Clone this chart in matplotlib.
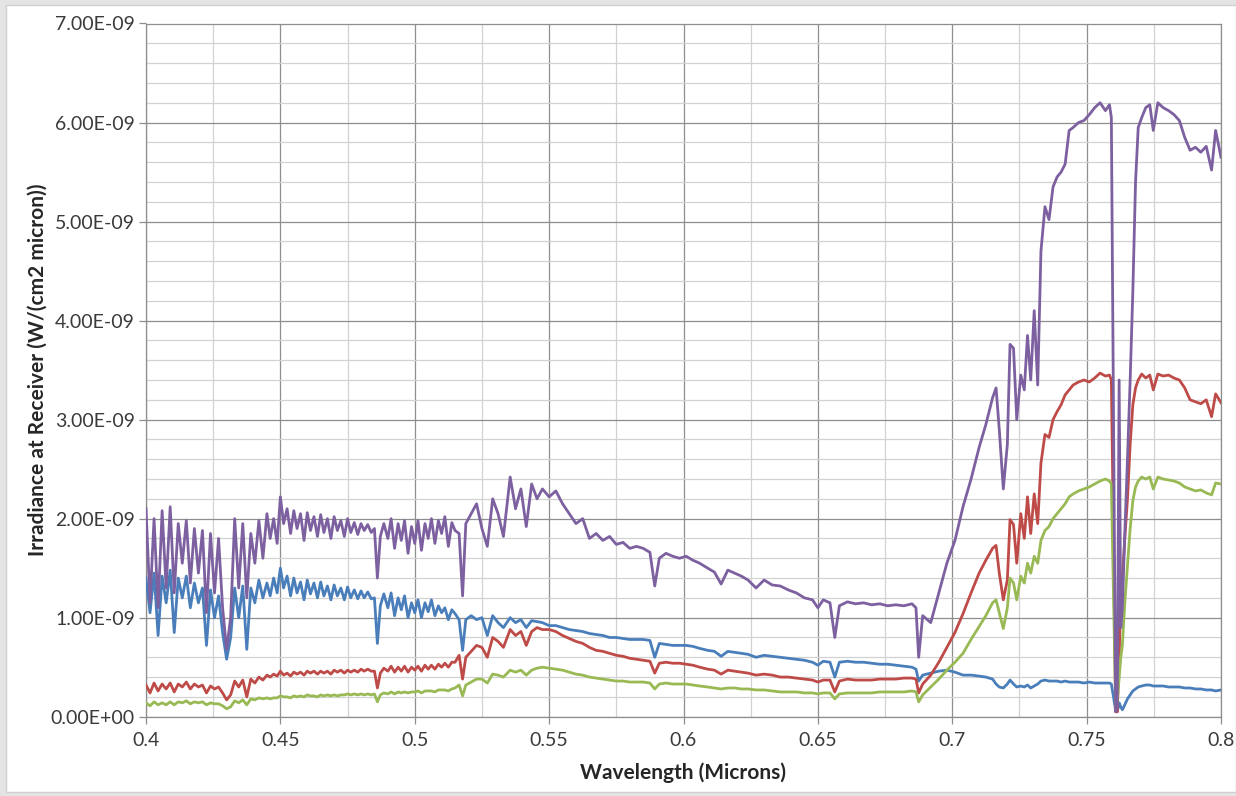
import numpy as np
import matplotlib
matplotlib.use("Agg")
import matplotlib.pyplot as plt
from matplotlib.ticker import FixedLocator, FuncFormatter, NullFormatter
from matplotlib.patches import Rectangle

# ---------------- data (irradiance in units of 1e-9 W/(cm2 micron)) ----------------
wavelength = [
    0.4000, 0.4015, 0.4030, 0.4045, 0.4060, 0.4075, 0.4090, 0.4105, 0.4120, 0.4135,
    0.4150, 0.4165, 0.4180, 0.4195, 0.4210, 0.4225, 0.4240, 0.4255, 0.4270, 0.4285,
    0.4300, 0.4315, 0.4330, 0.4345, 0.4360, 0.4375, 0.4390, 0.4405, 0.4420, 0.4435,
    0.4450, 0.4462, 0.4475, 0.4488, 0.4500, 0.4512, 0.4525, 0.4538, 0.4550, 0.4562,
    0.4575, 0.4588, 0.4600, 0.4612, 0.4625, 0.4638, 0.4650, 0.4662, 0.4675, 0.4688,
    0.4700, 0.4712, 0.4725, 0.4738, 0.4750, 0.4762, 0.4775, 0.4788, 0.4800, 0.4812,
    0.4825, 0.4838, 0.4850, 0.4861, 0.4872, 0.4885, 0.4900, 0.4912, 0.4925, 0.4938,
    0.4950, 0.4962, 0.4975, 0.4988, 0.5000, 0.5012, 0.5025, 0.5038, 0.5050, 0.5062,
    0.5075, 0.5088, 0.5100, 0.5112, 0.5125, 0.5138, 0.5150,
    0.5165, 0.5178, 0.5190, 0.5210, 0.5230, 0.5250, 0.5270, 0.5290, 0.5310, 0.5330,
    0.5355, 0.5375, 0.5395, 0.5415, 0.5435, 0.5455, 0.5475, 0.5500, 0.5525, 0.5550,
    0.5575, 0.5600, 0.5625, 0.5650, 0.5675, 0.5700, 0.5725, 0.5750, 0.5775, 0.5800,
    0.5825, 0.5850, 0.5875, 0.5893, 0.5910, 0.5935, 0.5960, 0.5985, 0.6010, 0.6035,
    0.6060, 0.6090, 0.6115, 0.6140, 0.6165, 0.6190, 0.6215, 0.6240, 0.6270, 0.6300,
    0.6330, 0.6360, 0.6390, 0.6420, 0.6450, 0.6480, 0.6500, 0.6520, 0.6545, 0.6563,
    0.6580, 0.6610, 0.6640, 0.6670, 0.6700, 0.6730, 0.6760, 0.6790, 0.6820, 0.6850,
    0.6865, 0.6875, 0.6890, 0.6920, 0.6950, 0.6980, 0.7010, 0.7040, 0.7070, 0.7100,
    0.7125, 0.7150, 0.7163, 0.7175, 0.7190, 0.7205, 0.7215, 0.7228, 0.7240, 0.7255,
    0.7268, 0.7280, 0.7292, 0.7305, 0.7318, 0.7330, 0.7345, 0.7360, 0.7375, 0.7390,
    0.7405, 0.7420, 0.7435, 0.7450, 0.7470, 0.7490, 0.7510, 0.7530, 0.7550, 0.7570,
    0.7585, 0.7592, 0.7600, 0.7608, 0.7614, 0.7621, 0.7627, 0.7633, 0.7642, 0.7652,
    0.7662, 0.7672, 0.7682, 0.7692, 0.7705, 0.7720, 0.7735, 0.7748, 0.7765, 0.7785,
    0.7805, 0.7825, 0.7845, 0.7865, 0.7885, 0.7905, 0.7925, 0.7945, 0.7965, 0.7980,
    0.8000,
]

series_blue = [
    1.40, 1.05, 1.45, 0.82, 1.42, 1.15, 1.48, 0.85, 1.40, 1.20,
    1.42, 1.10, 1.35, 1.15, 1.30, 0.72, 1.28, 1.00, 1.22, 0.85,
    0.58, 0.80, 1.30, 1.00, 1.32, 0.68, 1.30, 1.15, 1.38, 1.20,
    1.35, 1.22, 1.40, 1.25, 1.50, 1.30, 1.42, 1.22, 1.40, 1.25,
    1.36, 1.18, 1.38, 1.24, 1.35, 1.20, 1.36, 1.22, 1.32, 1.18,
    1.33, 1.22, 1.30, 1.18, 1.31, 1.20, 1.28, 1.19, 1.27, 1.20,
    1.26, 1.19, 1.20, 0.74, 1.12, 1.24, 1.10, 1.25, 1.02, 1.20,
    1.08, 1.22, 1.00, 1.15, 1.05, 1.18, 1.00, 1.15, 1.06, 1.18,
    1.02, 1.12, 1.05, 1.10, 0.98, 1.08, 1.04,
    0.98, 0.67, 0.98, 1.02, 0.98, 1.00, 0.82, 1.02, 0.95, 0.90,
    1.00, 0.95, 0.98, 0.90, 0.97, 0.96, 0.95, 0.92, 0.92, 0.90,
    0.88, 0.87, 0.86, 0.84, 0.83, 0.82, 0.80, 0.80, 0.79, 0.78,
    0.78, 0.78, 0.77, 0.60, 0.74, 0.73, 0.72, 0.72, 0.72, 0.71,
    0.69, 0.67, 0.66, 0.61, 0.66, 0.65, 0.64, 0.63, 0.60, 0.62,
    0.61, 0.60, 0.59, 0.58, 0.57, 0.55, 0.52, 0.56, 0.55, 0.40,
    0.55, 0.56, 0.55, 0.55, 0.54, 0.53, 0.53, 0.52, 0.51, 0.50,
    0.48, 0.36, 0.42, 0.44, 0.46, 0.47, 0.45, 0.42, 0.42, 0.41,
    0.40, 0.38, 0.33, 0.30, 0.29, 0.33, 0.37, 0.33, 0.30, 0.31,
    0.30, 0.32, 0.29, 0.31, 0.33, 0.36, 0.37, 0.36, 0.36, 0.36,
    0.35, 0.36, 0.35, 0.35, 0.35, 0.34, 0.35, 0.34, 0.34, 0.34,
    0.34, 0.33, 0.20, 0.06, 0.05, 0.14, 0.10, 0.07, 0.12, 0.18,
    0.22, 0.26, 0.28, 0.30, 0.31, 0.32, 0.32, 0.31, 0.31, 0.31,
    0.30, 0.30, 0.30, 0.29, 0.29, 0.28, 0.28, 0.27, 0.27, 0.26,
    0.27,
]

series_red = [
    0.32, 0.24, 0.34, 0.26, 0.33, 0.28, 0.34, 0.25, 0.33, 0.30,
    0.35, 0.28, 0.33, 0.30, 0.32, 0.24, 0.31, 0.28, 0.30, 0.24,
    0.17, 0.22, 0.36, 0.30, 0.37, 0.20, 0.38, 0.34, 0.40, 0.37,
    0.42, 0.40, 0.43, 0.41, 0.46, 0.42, 0.44, 0.41, 0.45, 0.43,
    0.45, 0.42, 0.46, 0.44, 0.46, 0.43, 0.46, 0.44, 0.46, 0.43,
    0.47, 0.45, 0.47, 0.44, 0.47, 0.45, 0.47, 0.45, 0.48, 0.46,
    0.48, 0.46, 0.46, 0.29, 0.44, 0.49, 0.46, 0.51, 0.45, 0.50,
    0.46, 0.51, 0.45, 0.50, 0.47, 0.51, 0.46, 0.52, 0.48, 0.52,
    0.48, 0.53, 0.50, 0.54, 0.50, 0.55, 0.55,
    0.62, 0.38, 0.60, 0.66, 0.72, 0.70, 0.60, 0.80, 0.76, 0.70,
    0.88, 0.82, 0.86, 0.72, 0.86, 0.90, 0.88, 0.88, 0.86, 0.82,
    0.79, 0.76, 0.74, 0.70, 0.67, 0.66, 0.64, 0.62, 0.61, 0.59,
    0.58, 0.57, 0.56, 0.44, 0.54, 0.55, 0.54, 0.54, 0.53, 0.52,
    0.50, 0.48, 0.47, 0.43, 0.47, 0.46, 0.45, 0.44, 0.42, 0.43,
    0.42, 0.40, 0.40, 0.39, 0.38, 0.37, 0.35, 0.37, 0.37, 0.25,
    0.36, 0.38, 0.37, 0.37, 0.37, 0.38, 0.38, 0.38, 0.39, 0.39,
    0.38, 0.24, 0.33, 0.42, 0.55, 0.70, 0.85, 1.04, 1.25, 1.45,
    1.58, 1.70, 1.73, 1.45, 1.18, 1.38, 1.99, 1.94, 1.55, 2.05,
    1.80, 2.22, 1.85, 2.25, 1.95, 2.56, 2.85, 2.82, 3.00, 3.08,
    3.15, 3.25, 3.30, 3.35, 3.38, 3.40, 3.38, 3.42, 3.47, 3.44,
    3.45, 3.40, 1.80, 0.05, 0.05, 0.60, 1.20, 1.40, 1.80, 2.20,
    2.75, 3.15, 3.32, 3.40, 3.46, 3.42, 3.45, 3.30, 3.46, 3.44,
    3.45, 3.42, 3.40, 3.32, 3.20, 3.18, 3.16, 3.20, 3.03, 3.26,
    3.17,
]

series_green = [
    0.14, 0.11, 0.15, 0.12, 0.14, 0.12, 0.15, 0.12, 0.15, 0.14,
    0.16, 0.13, 0.15, 0.14, 0.15, 0.12, 0.14, 0.13, 0.13, 0.11,
    0.08, 0.10, 0.16, 0.14, 0.17, 0.12, 0.18, 0.17, 0.19, 0.18,
    0.19, 0.18, 0.19, 0.19, 0.21, 0.20, 0.20, 0.19, 0.21, 0.20,
    0.21, 0.20, 0.22, 0.21, 0.21, 0.20, 0.22, 0.21, 0.22, 0.21,
    0.22, 0.21, 0.22, 0.22, 0.23, 0.22, 0.23, 0.22, 0.23, 0.22,
    0.23, 0.22, 0.23, 0.15, 0.22, 0.24, 0.23, 0.25, 0.23, 0.25,
    0.24, 0.25, 0.24, 0.25, 0.25, 0.26, 0.24, 0.26, 0.26, 0.26,
    0.25, 0.27, 0.27, 0.27, 0.26, 0.28, 0.29,
    0.32, 0.21, 0.32, 0.35, 0.38, 0.38, 0.34, 0.43, 0.42, 0.40,
    0.47, 0.45, 0.47, 0.42, 0.47, 0.49, 0.50, 0.49, 0.48, 0.47,
    0.45, 0.43, 0.42, 0.40, 0.39, 0.38, 0.37, 0.36, 0.36, 0.35,
    0.35, 0.35, 0.34, 0.28, 0.33, 0.34, 0.33, 0.33, 0.33, 0.32,
    0.31, 0.30, 0.29, 0.28, 0.29, 0.29, 0.28, 0.28, 0.27, 0.27,
    0.26, 0.25, 0.25, 0.25, 0.24, 0.24, 0.23, 0.24, 0.24, 0.18,
    0.23, 0.24, 0.24, 0.24, 0.24, 0.25, 0.25, 0.25, 0.25, 0.26,
    0.25, 0.15, 0.22, 0.30, 0.38, 0.47, 0.55, 0.64, 0.78, 0.91,
    1.02, 1.15, 1.18, 1.05, 0.89, 1.10, 1.40, 1.35, 1.18, 1.42,
    1.35, 1.55, 1.45, 1.62, 1.55, 1.78, 1.88, 1.92, 2.00, 2.05,
    2.10, 2.15, 2.22, 2.25, 2.28, 2.30, 2.32, 2.35, 2.38, 2.40,
    2.38, 2.35, 1.20, 0.10, 0.15, 0.40, 0.60, 0.72, 1.15, 1.52,
    1.90, 2.18, 2.32, 2.38, 2.42, 2.40, 2.42, 2.30, 2.42, 2.40,
    2.39, 2.38, 2.36, 2.32, 2.30, 2.28, 2.29, 2.26, 2.24, 2.36,
    2.35,
]

series_purple = [
    2.10, 1.15, 2.00, 1.10, 2.08, 1.30, 2.12, 1.25, 1.95, 1.55,
    1.98, 1.35, 1.90, 1.45, 1.88, 1.05, 1.85, 1.25, 1.80, 1.10,
    0.68, 1.00, 2.00, 1.30, 1.95, 1.20, 1.85, 1.55, 1.98, 1.60,
    2.05, 1.80, 2.00, 1.75, 2.22, 1.95, 2.10, 1.85, 2.08, 1.90,
    2.05, 1.78, 2.06, 1.88, 2.02, 1.82, 2.04, 1.86, 2.00, 1.80,
    2.02, 1.88, 1.98, 1.82, 2.00, 1.86, 1.96, 1.84, 1.95, 1.88,
    1.94, 1.86, 1.90, 1.40, 1.82, 1.95, 1.80, 2.00, 1.70, 1.95,
    1.78, 1.98, 1.65, 1.92, 1.75, 1.98, 1.68, 1.95, 1.80, 2.00,
    1.75, 1.98, 1.85, 2.02, 1.72, 1.96, 1.88,
    1.85, 1.22, 1.95, 2.05, 2.15, 1.90, 1.72, 2.20, 2.05, 1.82,
    2.42, 2.10, 2.30, 1.92, 2.35, 2.20, 2.30, 2.22, 2.28, 2.15,
    2.05, 1.95, 2.00, 1.80, 1.85, 1.78, 1.82, 1.74, 1.76, 1.70,
    1.72, 1.70, 1.66, 1.32, 1.60, 1.65, 1.62, 1.60, 1.62, 1.58,
    1.55, 1.50, 1.46, 1.34, 1.48, 1.45, 1.42, 1.38, 1.30, 1.38,
    1.33, 1.32, 1.28, 1.25, 1.20, 1.18, 1.10, 1.18, 1.15, 0.80,
    1.12, 1.16, 1.14, 1.15, 1.13, 1.14, 1.12, 1.13, 1.12, 1.14,
    1.10, 0.60, 1.02, 0.95, 1.25, 1.55, 1.78, 2.12, 2.40, 2.72,
    2.95, 3.22, 3.32, 2.90, 2.30, 2.75, 3.76, 3.72, 3.00, 3.45,
    3.30, 3.85, 3.40, 4.10, 3.35, 4.70, 5.15, 5.02, 5.35, 5.45,
    5.50, 5.58, 5.92, 5.95, 6.00, 6.02, 6.08, 6.15, 6.20, 6.12,
    6.18, 6.05, 3.00, 0.05, 0.10, 3.40, 0.90, 1.10, 1.85, 2.60,
    3.40, 4.30, 5.40, 5.95, 6.05, 6.15, 6.18, 5.92, 6.20, 6.15,
    6.12, 6.08, 6.02, 5.85, 5.72, 5.75, 5.70, 5.76, 5.52, 5.92,
    5.65,
]

UNIT = 1e-9
x_ticks = [0.4, 0.45, 0.5, 0.55, 0.6, 0.65, 0.7, 0.75, 0.8]
y_ticks = [0.0, 1.0, 2.0, 3.0, 4.0, 5.0, 6.0, 7.0]
x_label = "Wavelength (Microns)"
y_label = "Irradiance at Receiver (W/(cm2 micron))"

colors = {"blue": "#4a7ebb", "red": "#be4b48", "green": "#98b954", "purple": "#7d60a0"}

# ---------------- figure ----------------
plt.rcParams["font.family"] = ["Lato", "DejaVu Sans"]
fig = plt.figure(figsize=(12.36, 7.96), dpi=100)
fig.patch.set_facecolor("#e4e4e4")
fig.add_artist(Rectangle((0.005, 0.005), 0.995, 0.989, transform=fig.transFigure,
                         facecolor="white", edgecolor="#d0d0d0", linewidth=1.0, zorder=0))

ax = fig.add_axes([146 / 1236, 1 - 716.7 / 796, (1221 - 146) / 1236, (716.7 - 23.5) / 796])
ax.set_facecolor("white")

wl = np.array(wavelength)
for vals, key in [(series_blue, "blue"), (series_red, "red"),
                  (series_green, "green"), (series_purple, "purple")]:
    ax.plot(wl, np.array(vals) * UNIT, color=colors[key], linewidth=2.0,
            solid_joinstyle="round", zorder=3)

ax.set_xlim(0.4, 0.8)
ax.set_ylim(0, 7e-9)
ax.xaxis.set_major_locator(FixedLocator(x_ticks))
ax.xaxis.set_minor_locator(FixedLocator([0.425 + 0.05 * i for i in range(8)]))
ax.yaxis.set_major_locator(FixedLocator([v * UNIT for v in y_ticks]))
ax.yaxis.set_minor_locator(FixedLocator([0.2e-9 * i for i in range(1, 35) if i % 5]))

ax.xaxis.set_major_formatter(FuncFormatter(lambda v, p: f"{v:g}"))
ax.yaxis.set_major_formatter(FuncFormatter(lambda v, p: f"{v:.2E}"))
ax.xaxis.set_minor_formatter(NullFormatter())
ax.yaxis.set_minor_formatter(NullFormatter())

ax.grid(which="major", color="#8e8e8e", linewidth=0.9, zorder=1)
ax.grid(which="minor", color="#d2d2d2", linewidth=0.9, zorder=1)
ax.set_axisbelow(True)

for s in ax.spines.values():
    s.set_color("#8e8e8e")
    s.set_linewidth(0.9)

ax.tick_params(axis="both", which="major", direction="out", length=5, width=0.9,
               color="#8e8e8e", labelsize=14, labelcolor="#3a3a3a")
ax.tick_params(axis="y", which="major", pad=3)
ax.tick_params(axis="x", which="major", pad=6)
ax.tick_params(axis="both", which="minor", length=0)

ax.set_xlabel(x_label, fontsize=15, fontweight="bold", color="#262626", labelpad=10)
ax.set_ylabel(y_label, fontsize=15, fontweight="bold", color="#262626", labelpad=2)

fig.savefig("out.png", dpi=100, facecolor=fig.get_facecolor())
